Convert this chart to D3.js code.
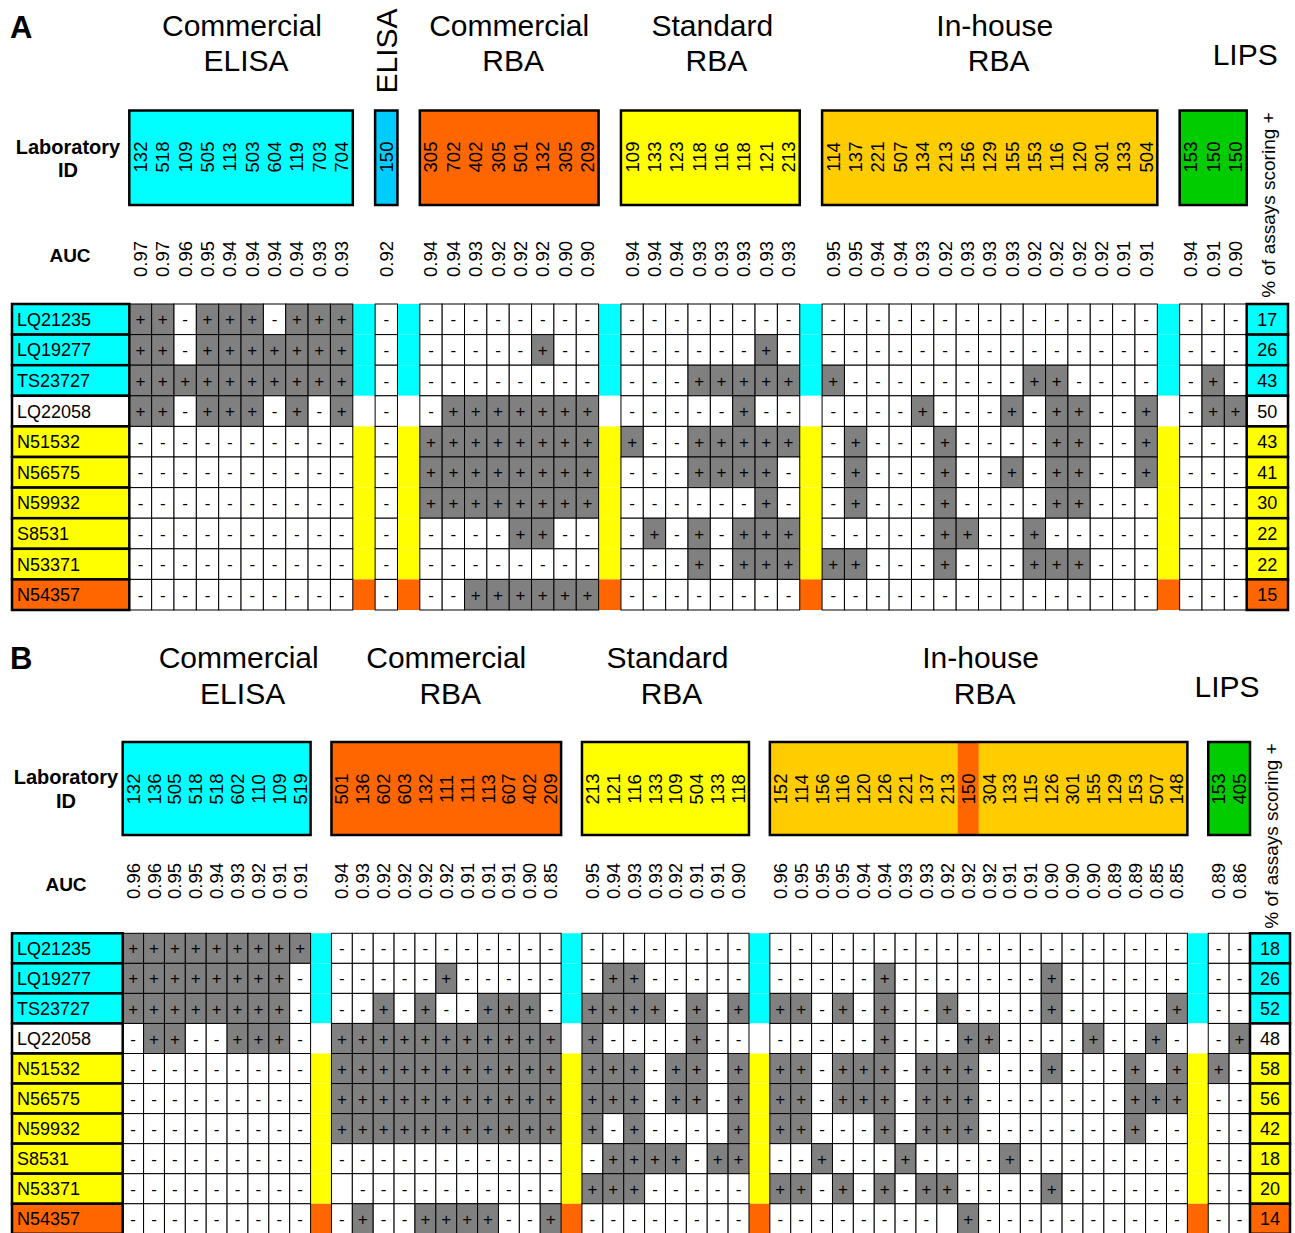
<!DOCTYPE html>
<html lang="en">
<head>
<meta charset="UTF-8">
<title>Assay results by laboratory</title>
<script src="https://d3js.org/d3.v7.min.js"></script>
<style>
  body { margin: 0; background: #fff; }
  svg { display: block; font-family: Arial, "Liberation Sans", Helvetica, sans-serif; }
</style>
</head>
<body>
<svg id="chart" width="1295" height="1233"></svg>
<script>
// ---------- Panel A data ----------
const groupsA = ["Commercial ELISA", "ELISA", "Commercial RBA", "Standard RBA", "In-house RBA", "LIPS"];
const labIdsA = [
  ["132", "518", "109", "505", "113", "503", "604", "119", "703", "704"],
  ["150"],
  ["305", "702", "402", "305", "501", "132", "305", "209"],
  ["109", "133", "123", "118", "116", "118", "121", "213"],
  ["114", "137", "221", "507", "134", "213", "156", "129", "155", "153", "116", "120", "301", "133", "504"],
  ["153", "150", "150"]
];
const aucA = [
  [0.97, 0.97, 0.96, 0.95, 0.94, 0.94, 0.94, 0.94, 0.93, 0.93],
  [0.92],
  [0.94, 0.94, 0.93, 0.92, 0.92, 0.92, 0.90, 0.90],
  [0.94, 0.94, 0.94, 0.93, 0.93, 0.93, 0.93, 0.93],
  [0.95, 0.95, 0.94, 0.94, 0.93, 0.92, 0.93, 0.93, 0.93, 0.92, 0.92, 0.92, 0.92, 0.91, 0.91],
  [0.94, 0.91, 0.90]
];
const samplesA = ["LQ21235", "LQ19277", "TS23727", "LQ22058", "N51532", "N56575", "N59932", "S8531", "N53371", "N54357"];
const sampleTypesA = ["c", "c", "c", "w", "y", "y", "y", "y", "y", "o"];
// one string per sample, assay groups split by "|", "." = no result
const resultsA = [
  "++-+++-+++|-|--------|--------|---------------|---",
  "++-+++++++|-|-----+--|------+-|---------------|---",
  "++++++++++|-|--------|---+++++|+--------++----|-+-",
  "++-+++-+-+|-|-+++++++|-----+--|----+---+-++--+|-++",
  "----------|-|++++++++|+--+++++|-+---+----++--+|---",
  "----------|-|++++++++|---++++-|-+---+--+-++--+|---",
  "----------|-|++++++++|------+-|-+---+----++---|---",
  "----------|-|----++--|-+-+-+++|-----++--+-----|---",
  "----------|-|--------|---+-+++|++---+---+++---|---",
  "----------|-|--++++++|--------|---------------|---"
];
const percentA = [17, 26, 43, 50, 43, 41, 30, 22, 22, 15];

// ---------- Panel B data ----------
const groupsB = ["Commercial ELISA", "Commercial RBA", "Standard RBA", "In-house RBA", "LIPS"];
const labIdsB = [
  ["132", "136", "505", "518", "518", "602", "110", "109", "519"],
  ["501", "136", "602", "603", "132", "111", "111", "113", "607", "402", "209"],
  ["213", "121", "116", "133", "109", "504", "133", "118"],
  ["152", "114", "156", "116", "120", "126", "221", "137", "213", "150", "304", "133", "115", "126", "301", "155", "129", "153", "507", "148"],
  ["153", "405"]
];
const aucB = [
  [0.96, 0.96, 0.95, 0.95, 0.94, 0.93, 0.92, 0.91, 0.91],
  [0.94, 0.93, 0.92, 0.92, 0.92, 0.92, 0.91, 0.91, 0.91, 0.90, 0.85],
  [0.95, 0.94, 0.93, 0.93, 0.92, 0.91, 0.91, 0.90],
  [0.96, 0.95, 0.95, 0.95, 0.94, 0.94, 0.93, 0.93, 0.92, 0.92, 0.92, 0.91, 0.91, 0.90, 0.90, 0.90, 0.89, 0.89, 0.85, 0.85],
  [0.89, 0.86]
];
const samplesB = ["LQ21235", "LQ19277", "TS23727", "LQ22058", "N51532", "N56575", "N59932", "S8531", "N53371", "N54357"];
const sampleTypesB = ["c", "c", "c", "w", "y", "y", "y", "y", "y", "o"];
const resultsB = [
  "+++++++++|-----------|--------|--------------------|--",
  "++++++++-|-----+-----|-++-----|-----+-------+------|--",
  "++++++++-|--+-+--+++-|++++-+-+|++-+-+--+----+-----+|--",
  "-++--+++-|+++++++++++|+----+--|-----+---++----+--+-|-+",
  "---------|+++++++++++|+++-++-+|++-+++-+++---+---+-+|+-",
  "---------|+++++++++++|+++-++-+|++-+++-+++-------+++|--",
  "---------|+++++++++++|+-+----+|++---+-+++-------+--|--",
  "---------|-----------|-++++-++|--+---+----+--------|--",
  "---------|.----------|+++-----|++-+-+-++----+------|--",
  "---------|-+--++++--+|--------|--------.+----------|--"
];
const percentB = [18, 26, 52, 48, 58, 56, 42, 18, 20, 14];
// in-house assay in panel B that was run with a commercial kit (group, column)
const kitColumnsB = [[3, 9]];

// ---------- styles / layout ----------
const typeColor = { c: "#00FFFF", w: "#FFFFFF", y: "#FFFF00", o: "#FF6600" };
const plusFill = "#808080";

const svg = d3.select("#chart");

function drawPanel(p) {
  const L = p.layout;
  const g = svg.append("g");

  // columns: all assays, with one spacer column between groups
  const cols = [];
  p.groups.forEach((name, gi) => {
    if (gi > 0) cols.push({ key: "sp" + gi, spacer: true });
    p.ids[gi].forEach((id, j) => cols.push({ key: gi + "_" + j, group: gi, j: j, id: id, auc: p.auc[gi][j] }));
  });
  const assayCols = cols.filter(d => !d.spacer);

  const x = d3.scaleBand().domain(cols.map(d => d.key)).range([L.x0, L.x1]);
  const y = d3.scaleBand().domain(p.samples).range([L.y0, L.y1]);
  const bw = x.bandwidth(), bh = y.bandwidth();

  const groupSpan = gi => {
    const gc = assayCols.filter(d => d.group === gi);
    return [x(gc[0].key), x(gc[gc.length - 1].key) + bw];
  };

  // panel letter
  g.append("text")
    .attr("x", 10).attr("y", L.letterY)
    .attr("font-size", 31).attr("font-weight", "bold")
    .text(p.letter);

  // group titles
  p.groups.forEach((name, gi) => {
    const [a, b] = groupSpan(gi);
    const cx = (a + b) / 2 + L.titleShift[gi];
    if (L.verticalTitle.includes(gi)) {
      g.append("text")
        .attr("transform", `translate(${cx},${L.vTitleY}) rotate(-90)`)
        .attr("text-anchor", "middle").attr("dominant-baseline", "central")
        .attr("font-size", 30).text(name);
      return;
    }
    const words = name.split(" ");
    if (words.length === 1) {
      g.append("text").attr("x", cx).attr("y", L.singleTitleY)
        .attr("text-anchor", "middle").attr("font-size", 30).text(name);
    } else {
      words.forEach((w, k) => {
        g.append("text").attr("x", cx + (k === 1 ? 4 : 0)).attr("y", L.titleY[k])
          .attr("text-anchor", "middle").attr("font-size", 30).text(w);
      });
    }
  });

  // header row labels
  g.append("text").attr("x", L.labX).attr("y", L.labY[0])
    .attr("text-anchor", "middle").attr("font-size", 20).attr("font-weight", "bold").text("Laboratory");
  g.append("text").attr("x", L.labX).attr("y", L.labY[1])
    .attr("text-anchor", "middle").attr("font-size", 20).attr("font-weight", "bold").text("ID");
  g.append("text").attr("x", L.aucX).attr("y", L.aucLabelY)
    .attr("text-anchor", "middle").attr("font-size", 19).attr("font-weight", "bold").text("AUC");

  // lab ID boxes
  p.groups.forEach((name, gi) => {
    const [a, b] = groupSpan(gi);
    g.append("rect")
      .attr("x", a).attr("y", L.boxY0).attr("width", b - a).attr("height", L.boxY1 - L.boxY0)
      .attr("fill", L.groupColors[gi]);
    (p.kitCols || []).filter(k => k[0] === gi).forEach(k => {
      g.append("rect")
        .attr("x", x(gi + "_" + k[1])).attr("y", L.boxY0)
        .attr("width", bw).attr("height", L.boxY1 - L.boxY0)
        .attr("fill", "#FF6600");
    });
    g.append("rect")
      .attr("x", a).attr("y", L.boxY0).attr("width", b - a).attr("height", L.boxY1 - L.boxY0)
      .attr("fill", "none").attr("stroke", "#000").attr("stroke-width", 2.5);
  });

  const fmt = d3.format(".2f");
  g.selectAll("text.labid")
    .data(assayCols)
    .enter().append("text")
    .attr("class", "labid")
    .attr("transform", d => `translate(${x(d.key) + bw / 2},${L.idY}) rotate(-90)`)
    .attr("text-anchor", "middle").attr("dominant-baseline", "central")
    .attr("font-size", 18.5)
    .text(d => d.id);

  g.selectAll("text.auc")
    .data(assayCols)
    .enter().append("text")
    .attr("class", "auc")
    .attr("transform", d => `translate(${x(d.key) + bw / 2},${L.aucY}) rotate(-90)`)
    .attr("text-anchor", "middle").attr("dominant-baseline", "central")
    .attr("font-size", 18.5)
    .text(d => fmt(d.auc));

  g.append("text")
    .attr("transform", `translate(${L.pctHeadX},${L.pctHeadY}) rotate(-90)`)
    .attr("text-anchor", "middle").attr("dominant-baseline", "central")
    .attr("font-size", 19)
    .text("% of assays scoring +");

  // result grid
  const cells = [];
  p.samples.forEach((s, r) => {
    const parts = p.results[r].split("|");
    cols.forEach(c => {
      cells.push({
        sample: s, type: p.types[r], col: c,
        v: c.spacer ? null : parts[c.group][c.j]
      });
    });
  });

  g.selectAll("rect.spacer")
    .data(cells.filter(d => d.col.spacer))
    .enter().append("rect")
    .attr("class", "spacer")
    .attr("x", d => x(d.col.key)).attr("y", d => y(d.sample))
    .attr("width", bw).attr("height", bh)
    .attr("fill", d => typeColor[d.type]);

  const res = cells.filter(d => !d.col.spacer);
  g.selectAll("rect.cell")
    .data(res)
    .enter().append("rect")
    .attr("class", "cell")
    .attr("x", d => x(d.col.key)).attr("y", d => y(d.sample))
    .attr("width", bw).attr("height", bh)
    .attr("fill", d => d.v === "+" ? plusFill : "#fff")
    .attr("stroke", "#000").attr("stroke-width", 1);

  g.selectAll("text.cell")
    .data(res.filter(d => d.v !== "."))
    .enter().append("text")
    .attr("class", "cell")
    .attr("x", d => x(d.col.key) + bw / 2)
    .attr("y", d => y(d.sample) + bh / 2)
    .attr("dy", "0.36em")
    .attr("text-anchor", "middle")
    .attr("font-size", 17)
    .text(d => d.v);

  // sample labels on the left
  g.selectAll("rect.sample")
    .data(p.samples)
    .enter().append("rect")
    .attr("class", "sample")
    .attr("x", L.labelX0).attr("y", d => y(d))
    .attr("width", L.x0 - L.labelX0).attr("height", bh)
    .attr("fill", (d, i) => typeColor[p.types[i]])
    .attr("stroke", "#000").attr("stroke-width", 2.5);
  g.selectAll("text.sample")
    .data(p.samples)
    .enter().append("text")
    .attr("class", "sample")
    .attr("x", L.labelX0 + 5).attr("y", d => y(d) + bh / 2)
    .attr("dy", "0.36em")
    .attr("font-size", 18)
    .text(d => d);

  // % of assays scoring + on the right
  g.selectAll("rect.pct")
    .data(p.percent)
    .enter().append("rect")
    .attr("class", "pct")
    .attr("x", L.x1).attr("y", (d, i) => y(p.samples[i]))
    .attr("width", L.pctX1 - L.x1).attr("height", bh)
    .attr("fill", (d, i) => typeColor[p.types[i]])
    .attr("stroke", "#000").attr("stroke-width", 2.5);
  g.selectAll("text.pct")
    .data(p.percent)
    .enter().append("text")
    .attr("class", "pct")
    .attr("x", (L.x1 + L.pctX1) / 2).attr("y", (d, i) => y(p.samples[i]) + bh / 2)
    .attr("dy", "0.36em")
    .attr("text-anchor", "middle")
    .attr("font-size", 18)
    .text(d => d);
}

drawPanel({
  letter: "A",
  groups: groupsA, ids: labIdsA, auc: aucA,
  samples: samplesA, types: sampleTypesA, results: resultsA, percent: percentA,
  layout: {
    x0: 129.3, x1: 1246.7, y0: 304, y1: 610,
    labelX0: 12, pctX1: 1288,
    boxY0: 110.5, boxY1: 205,
    idY: 157, aucY: 259,
    letterY: 38, titleY: [36, 71], singleTitleY: 65, vTitleY: 51,
    titleShift: [1, 0, 0, 2, 5, 32], verticalTitle: [1],
    labX: 68, labY: [154, 177], aucX: 70, aucLabelY: 262,
    pctHeadX: 1268, pctHeadY: 205,
    groupColors: ["#00FFFF", "#00CCFF", "#FF6600", "#FFFF00", "#FFCC00", "#00CC00"]
  }
});

drawPanel({
  letter: "B",
  groups: groupsB, ids: labIdsB, auc: aucB,
  samples: samplesB, types: sampleTypesB, results: resultsB, percent: percentB,
  kitCols: kitColumnsB,
  layout: {
    x0: 122.7, x1: 1250, y0: 933.3, y1: 1233.8,
    labelX0: 12, pctX1: 1290,
    boxY0: 742, boxY1: 835,
    idY: 789, aucY: 881,
    letterY: 669, titleY: [668, 704], singleTitleY: 697, vTitleY: 0,
    titleShift: [22, 0, 2, 2, -2], verticalTitle: [],
    labX: 66, labY: [784, 808], aucX: 66, aucLabelY: 891,
    pctHeadX: 1271, pctHeadY: 836,
    groupColors: ["#00FFFF", "#FF6600", "#FFFF00", "#FFCC00", "#00CC00"]
  }
});
</script>
</body>
</html>
